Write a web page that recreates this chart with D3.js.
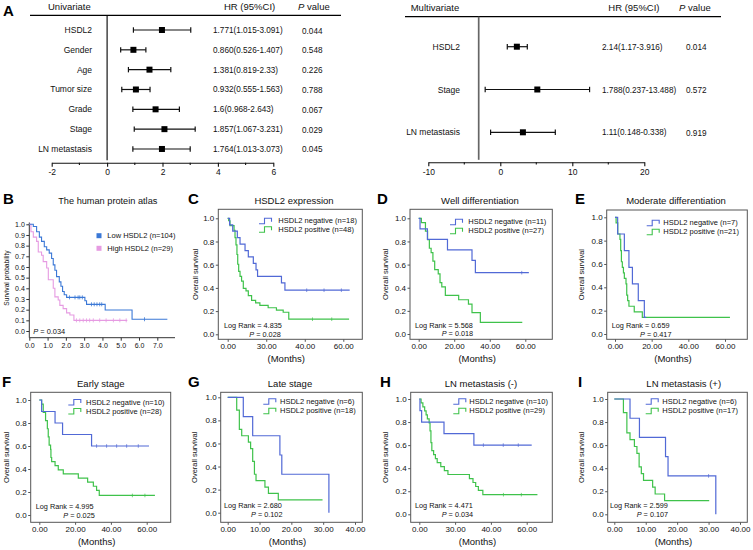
<!DOCTYPE html>
<html><head><meta charset="utf-8">
<script src="https://cdn.jsdelivr.net/npm/d3@7"></script>
<style>
body{margin:0;background:#fff}
svg{display:block}
text{font-family:"Liberation Sans",Arial,Helvetica,sans-serif;fill:#111}
</style>
</head><body>
<svg id="c" width="753" height="550"></svg>
<script>
// ---------------- DATA ----------------
// Panel A – univariate
const uniVars = ["HSDL2","Gender","Age","Tumor size","Grade","Stage","LN metastasis"];
const uniPoint = [1.98,0.95,1.53,1.04,1.75,2.07,1.98];
const uniLo = [0.95,0.49,0.77,0.53,0.93,0.98,0.93];
const uniHi = [3.02,1.40,2.30,1.55,2.61,3.18,3.00];
const uniHRText = ["1.771(1.015-3.091)","0.860(0.526-1.407)","1.381(0.819-2.33)","0.932(0.555-1.563)","1.6(0.968-2.643)","1.857(1.067-3.231)","1.764(1.013-3.073)"];
const uniP = ["0.044","0.548","0.226","0.788","0.067","0.029","0.045"];
const uniTicks = [-2,0,2,4,6];
const uniMinor = [-1,1,3,5];
// Panel A – multivariate
const multiVars = ["HSDL2","Stage","LN metastasis"];
const multiPoint = [2.3,5.14,3.14];
const multiLo = [0.97,-2.1,-1.35];
const multiHi = [3.75,12.4,7.64];
const multiHRText = ["2.14(1.17-3.916)","1.788(0.237-13.488)","1.11(0.148-0.338)"];
const multiP = ["0.014","0.572","0.919"];
const multiTicks = [-10,0,10,20];
const multiMinor = [-5,5,15];

// Panel B – human protein atlas (years, survival)
const bLow = [[0,1],[0.22,0.98],[0.4,0.93],[0.55,0.88],[0.67,0.84],[0.82,0.79],[0.95,0.76],[1.09,0.73],[1.22,0.68],[1.31,0.62],[1.4,0.57],[1.49,0.51],[1.64,0.46],[1.73,0.42],[1.82,0.37],[1.91,0.34],[2.04,0.315],[3.04,0.284],[3.13,0.25],[4.15,0.197],[5.62,0.11],[7.55,0.11]];
const bHigh = [[0,1],[0.09,0.93],[0.22,0.88],[0.4,0.84],[0.49,0.74],[0.67,0.71],[0.76,0.65],[0.95,0.59],[1.04,0.48],[1.31,0.40],[1.4,0.32],[1.58,0.29],[1.67,0.24],[1.85,0.21],[2.04,0.17],[2.22,0.15],[2.44,0.10],[5.36,0.10]];
const bLowCens = [2.2,2.5,2.67,2.76,2.9,3.4,3.55,3.7,3.85,3.96,6.3];
const bHighCens = [2.58,2.76,2.95,3.13,3.3,3.5,3.85,4.2,4.6,4.95,5.3];
const bXTicks = [0,1,2,3,4,5,6,7];
const bYTicks = [0,0.1,0.2,0.3,0.4,0.5,0.6,0.7,0.8,0.9,1.0];
const bLegend = ["Low HSDL2 (n=104)","High HSDL2 (n=29)"];
const bP = "0.034";

// Panels C–I (months, survival)
const cNeg = [[0,1],[1,0.944],[2.6,0.889],[5,0.833],[6.4,0.778],[9,0.722],[10.7,0.667],[13.3,0.611],[14.7,0.556],[15.5,0.5],[27.9,0.444],[29.7,0.38],[63.3,0.38]];
const cPos = [[0,1],[0.5,0.979],[1.2,0.937],[3.3,0.896],[3.8,0.833],[4.3,0.771],[4.8,0.688],[5.2,0.604],[5.7,0.542],[6.4,0.5],[7.2,0.458],[8.1,0.396],[9.5,0.375],[10.7,0.333],[12.4,0.292],[14.5,0.271],[16.7,0.25],[21,0.229],[25.3,0.208],[28.8,0.19],[31.7,0.13],[63,0.13]];
const dNeg = [[0,1],[0.75,0.909],[4.9,0.818],[16.2,0.727],[30,0.636],[31.9,0.53],[62,0.53]];
const dPos = [[0,1],[1.5,0.963],[3.8,0.889],[5,0.815],[6,0.741],[7,0.704],[8,0.63],[9,0.556],[11,0.519],[12,0.444],[13,0.407],[15,0.333],[22.5,0.296],[28,0.259],[30,0.185],[34.7,0.1],[58.3,0.1]];
const eNeg = [[0,1],[1.45,0.857],[5.1,0.714],[7.6,0.571],[9.5,0.429],[12.7,0.286],[16,0.143],[17,0.143]];
const ePos = [[0,1],[0.6,0.952],[1.5,0.857],[2.7,0.81],[3.1,0.714],[3.5,0.619],[4,0.571],[4.6,0.524],[5.1,0.476],[6,0.429],[6.4,0.333],[6.9,0.286],[7.6,0.238],[10.5,0.19],[14.9,0.143],[62.7,0.143]];
const fNeg = [[0,1],[1.3,0.9],[8.8,0.8],[13,0.7],[29.2,0.6],[61.3,0.6]];
const fPos = [[0,1],[1.3,0.964],[2.2,0.893],[3.5,0.821],[4.5,0.75],[5,0.679],[5.5,0.607],[6.3,0.571],[6.5,0.5],[6.9,0.464],[8.8,0.429],[10.6,0.393],[13.4,0.357],[21.8,0.321],[27,0.286],[30.2,0.25],[32,0.214],[33.5,0.17],[64.6,0.17]];
const gNeg = [[0,1],[4.9,0.833],[7.85,0.667],[16.4,0.5],[17,0.333],[31.8,0]];
const gPos = [[0,1],[2.83,0.889],[3.66,0.722],[4.4,0.667],[6.5,0.611],[7.2,0.556],[7.85,0.444],[8.4,0.333],[8.9,0.278],[11.7,0.222],[12.8,0.167],[15.9,0.111],[29.8,0.111]];
const hNeg = [[0,1],[0.37,0.9],[1.3,0.8],[13.8,0.7],[30.5,0.6],[62.8,0.6]];
const hPos = [[0,1],[1,0.966],[2,0.931],[3,0.897],[3.8,0.862],[4.5,0.828],[5.5,0.793],[6,0.724],[6.5,0.621],[7,0.552],[8,0.517],[9,0.483],[10,0.448],[12,0.414],[14,0.379],[16,0.345],[28,0.31],[30,0.276],[31.5,0.241],[33,0.207],[35.5,0.17],[66,0.17]];
const iNeg = [[0,1],[5,0.833],[8,0.667],[16.3,0.5],[17.1,0.333],[32.3,0]];
const iPos = [[0,1],[2.9,0.882],[4,0.706],[5,0.647],[6.4,0.588],[7.2,0.529],[7.9,0.412],[8.6,0.353],[9.3,0.294],[12.2,0.235],[13,0.176],[16,0.118],[30.2,0.118]];

const cNegCens = [41,50,59], cPosCens = [44,54];
const dNegCens = [58], dPosCens = [];
const fNegCens = [32,37.6,43.2,48.8,55.3], fPosCens = [52,59];
const hNegCens = [35.8,46.9,55.3], hPosCens = [47,57];
const iNegCens = [30];

const kmTitles = ["HSDL2 expression","Well differentiation","Moderate differentiation","Early stage","Late stage","LN metastasis (-)","LN metastasis (+)"];
const kmNeg = [18,11,7,10,6,10,6];
const kmPos = [48,27,21,28,18,29,17];
const kmLogRank = ["4.835","5.568","0.659","4.995","2.680","4.471","2.599"];
const kmPval = ["0.028","0.018","0.417","0.025","0.102","0.034","0.107"];
const kmYTicks = [0,0.2,0.4,0.6,0.8,1.0];
const ticks60 = [0,20,40,60], ticks40 = [0,10,20,30,40];
const labelsC = ["0.00","30.00","40.00","60.00"];
const labels60 = ["0.00","20.00","40.00","60.00"];
const labels40 = ["0.00","10.00","20.00","30.00","40.00"];

// ---------------- DRAWING ----------------
const svg = d3.select("#c");
const BLUE = "#5169d6", GREEN = "#3fc24b", FRAME = "#555";

function txt(g, x, y, s, size, anchor, extra) {
  const t = g.append("text").attr("x", x).attr("y", y).attr("font-size", size)
    .attr("text-anchor", anchor || "start").text(s);
  if (extra && extra.weight) t.attr("font-weight", extra.weight);
  return t;
}
function pText(g, x, y, size, rest, anchor) {
  const t = g.append("text").attr("x", x).attr("y", y).attr("font-size", size).attr("text-anchor", anchor || "start");
  t.append("tspan").attr("font-style", "italic").text("P");
  t.append("tspan").text(rest);
  return t;
}

// Panel letters
[["A",3,15.7],["B",3,204],["C",188,204],["D",377,204],["E",575,204],
 ["F",2,387],["G",188,387],["H",380,387],["I",578,387]].forEach(d =>
  txt(svg, d[1], d[2], d[0], 15, "start", {weight: "bold"}).style("fill", "#000"));

// ---------- Forest plots ----------
function forest(o) {
  const g = svg.append("g");
  const x = d3.scaleLinear().domain(o.domain).range(o.range);
  txt(g, o.hdrX, o.hdrY, o.title, 9.5);
  txt(g, o.hrX, o.hdrY, "HR (95%CI)", 9.5);
  pText(g, o.pHdrX, o.hdrY, 9.5, " value");
  g.append("line").attr("x1", o.lineX1).attr("x2", o.lineX2).attr("y1", o.lineY).attr("y2", o.lineY)
    .attr("stroke", "#000").attr("stroke-width", 1.2);
  g.append("line").attr("x1", x(o.refVal)).attr("x2", x(o.refVal)).attr("y1", o.lineY).attr("y2", o.axisY - 2.5)
    .attr("stroke", o.refColor).attr("stroke-width", o.refW);
  o.vars.forEach((v, i) => {
    const yy = o.row0 + i * o.rowStep;
    txt(g, o.labX, yy + 3, v, 8.5, "end");
    g.append("line").attr("x1", x(o.lo[i])).attr("x2", x(o.hi[i])).attr("y1", yy).attr("y2", yy)
      .attr("stroke", "#111").attr("stroke-width", 1.2);
    [o.lo[i], o.hi[i]].forEach(e => g.append("line").attr("x1", x(e)).attr("x2", x(e))
      .attr("y1", yy - 2.7).attr("y2", yy + 2.7).attr("stroke", "#111").attr("stroke-width", 1.2));
    g.append("rect").attr("x", x(o.pt[i]) - 3).attr("y", yy - 3).attr("width", 6).attr("height", 6).attr("fill", "#000");
    txt(g, o.hrTX, yy + 3, o.hrText[i], 8.2);
    txt(g, o.pTX, yy + 3.5, o.p[i], 8.2);
  });
  const ax = d3.axisBottom(x).tickValues(o.ticks).tickSize(4).tickSizeOuter(0).tickPadding(2.5).tickFormat(d => String(d));
  const ag = g.append("g").attr("transform", `translate(0,${o.axisY})`).call(ax);
  ag.selectAll("text").attr("font-size", 8.5).style("font-family", '"Liberation Sans",Arial,sans-serif').attr("fill", "#111");
  ag.selectAll("path,line").attr("stroke", "#111").attr("stroke-width", 1.1);
  o.minor.forEach(m => g.append("line").attr("x1", x(m)).attr("x2", x(m)).attr("y1", o.axisY).attr("y2", o.axisY + 2.2)
    .attr("stroke", "#111").attr("stroke-width", 1.1));
}
forest({title:"Univariate", hdrX:48, hdrY:10, hrX:224, pHdrX:298, lineX1:30, lineX2:341, lineY:15.3,
  domain:[-2,6], range:[51.7,273.3], refVal:0, refColor:"#000", refW:1.1, axisY:162.7,
  vars:uniVars, pt:uniPoint, lo:uniLo, hi:uniHi, hrText:uniHRText, p:uniP, ticks:uniTicks, minor:uniMinor,
  row0:30, rowStep:19.83, labX:92, hrTX:213, pTX:302});
forest({title:"Multivariate", hdrX:410.7, hdrY:11, hrX:608.3, pHdrX:679, lineX1:405, lineX2:721, lineY:16.7,
  domain:[-10,20], range:[428.3,644.3], refVal:-3, refColor:"#666", refW:1.7, axisY:162.3,
  vars:multiVars, pt:multiPoint, lo:multiLo, hi:multiHi, hrText:multiHRText, p:multiP, ticks:multiTicks, minor:multiMinor,
  row0:46.7, rowStep:42.8, labX:460, hrTX:602, pTX:686});

// ---------- helpers for KM ----------
function survAt(curve, t) {
  let s = curve[0][1];
  for (const d of curve) { if (d[0] <= t) s = d[1]; }
  return s;
}
const stepLine = (x, y) => d3.line().x(d => x(d[0])).y(d => y(d[1])).curve(d3.curveStepAfter);

// ---------- Panel B ----------
(function () {
  const g = svg.append("g");
  const x = d3.scaleLinear().domain([0, 7]).range([29.3, 157.3]);
  const y = d3.scaleLinear().domain([0, 1]).range([331, 224.3]);
  txt(g, 107.8, 204, "The human protein atlas", 9.2, "middle");
  const ya = d3.axisLeft(y).tickValues(bYTicks).tickSize(3).tickSizeOuter(0).tickPadding(1.5).tickFormat(d3.format(".1f"));
  const yg = g.append("g").attr("transform", "translate(29.3,0)").call(ya);
  yg.select(".domain").remove();
  g.append("line").attr("x1", 29.3).attr("x2", 29.3).attr("y1", 222.5).attr("y2", 337.7).attr("stroke", "#333");
  const xa = d3.axisBottom(x).tickValues(bXTicks).tickSize(3).tickSizeOuter(0).tickPadding(2);
  const xg = g.append("g").attr("transform", "translate(0,337.7)").call(xa);
  xg.select(".domain").remove();
  g.append("line").attr("x1", 29.3).attr("x2", 175).attr("y1", 337.7).attr("y2", 337.7).attr("stroke", "#333");
  [yg, xg].forEach(a => { a.selectAll("text").attr("font-size", 7).attr("fill", "#111").style("font-family", '"Liberation Sans",Arial,sans-serif'); a.selectAll("line").attr("stroke", "#333"); });
  g.append("text").attr("transform", "translate(8.5,278) rotate(-90)").attr("text-anchor", "middle").attr("font-size", 6.6).text("Survival probability");
  const line = stepLine(x, y);
  [[bHigh, "#e69be2", bHighCens], [bLow, "#3b78d6", bLowCens]].forEach(([c, col, cens]) => {
    g.append("path").attr("d", line(c)).attr("fill", "none").attr("stroke", col).attr("stroke-width", 1.1);
    cens.forEach(t => { const yy = y(survAt(c, t)); g.append("line").attr("x1", x(t)).attr("x2", x(t)).attr("y1", yy - 2).attr("y2", yy + 2).attr("stroke", col).attr("stroke-width", 0.8); });
  });
  [["#3b78d6", bLegend[0], 235.7], ["#e69be2", bLegend[1], 248.3]].forEach(([col, s, yy]) => {
    g.append("rect").attr("x", 96.5).attr("y", yy - 2.5).attr("width", 5).attr("height", 5).attr("fill", col);
    txt(g, 107.3, yy + 2.7, s, 7.5);
  });
  pText(g, 33.3, 333.6, 7.4, " = " + bP);
})();

// ---------- Panels C–I ----------
const kmLayout = [
 {fl:218.3,fr:362.3,ft:209.3,fb:339.3,x0:227.7,x1:343.3,y1:218.3,y0:334.3,xMax:60,ticks:ticks60,labels:labelsC,titleX:294,titleY:204,legIconX:259,legTextX:278.3,leg1Y:220.7,leg2Y:229.3,lrX:224,lrY:325.7,pX:249.3,pY:334.3,ylX:195,neg:cNeg,pos:cPos,negC:cNegCens,posC:cPosCens},
 {fl:410,fr:552.3,ft:209.3,fb:339.3,x0:418.7,x1:525.3,y1:218.3,y0:334,xMax:60,ticks:ticks60,labels:labels60,titleX:480,titleY:204,legIconX:450,legTextX:468.3,leg1Y:221.7,leg2Y:230.7,lrX:415,lrY:325,pX:441.7,pY:333.7,ylX:385,neg:dNeg,pos:dPos,negC:dNegCens,posC:dPosCens},
 {fl:606.7,fr:747.3,ft:210,fb:339.3,x0:615,x1:725,y1:217.3,y0:334,xMax:60,ticks:ticks60,labels:labels60,titleX:676,titleY:204,legIconX:646.7,legTextX:663.3,leg1Y:222.7,leg2Y:231.7,lrX:611.7,lrY:325.7,pX:640,pY:334.3,ylX:581.7,neg:eNeg,pos:ePos,negC:[],posC:[]},
 {fl:30.7,fr:170.7,ft:392.3,fb:522.3,x0:39.3,x1:146.7,y1:400,y0:515,xMax:60,ticks:ticks60,labels:labels60,titleX:100.8,titleY:386.6,legIconX:68.3,legTextX:86,leg1Y:402,leg2Y:411,lrX:35.7,lrY:506,pX:63.3,pY:515,ylX:6,neg:fNeg,pos:fPos,negC:fNegCens,posC:fPosCens},
 {fl:220.7,fr:362.3,ft:392.3,fb:522.3,x0:227.7,x1:355,y1:397.3,y0:512.7,xMax:40,ticks:ticks40,labels:labels40,titleX:290,titleY:386.6,legIconX:263.3,legTextX:280,leg1Y:401.3,leg2Y:410.7,lrX:224,lrY:505.8,pX:251,pY:514.6,ylX:194.3,neg:gNeg,pos:gPos,negC:[],posC:[]},
 {fl:410.7,fr:552.3,ft:392.3,fb:522.3,x0:419.3,x1:526.7,y1:399,y0:514.3,xMax:60,ticks:ticks60,labels:labelsC,titleX:481,titleY:386.6,legIconX:453.3,legTextX:469.3,leg1Y:401.3,leg2Y:410.7,lrX:415,lrY:505.8,pX:441.7,pY:514.6,ylX:385,neg:hNeg,pos:hPos,negC:hNegCens,posC:hPosCens},
 {fl:607.7,fr:747.3,ft:392.3,fb:522.3,x0:614.3,x1:740,y1:399,y0:514.3,xMax:40,ticks:ticks40,labels:labels40,titleX:683.7,titleY:386.6,legIconX:645.7,legTextX:662.3,leg1Y:401.3,leg2Y:410.7,lrX:610,lrY:505.8,pX:636.7,pY:514.6,ylX:581.7,neg:iNeg,pos:iPos,negC:iNegCens,posC:[]}
];

kmLayout.forEach((p, k) => {
  const g = svg.append("g");
  const x = d3.scaleLinear().domain([0, p.xMax]).range([p.x0, p.x1]);
  const y = d3.scaleLinear().domain([0, 1]).range([p.y0, p.y1]);
  txt(g, p.titleX, p.titleY, kmTitles[k], 9.5, "middle");
  const ya = d3.axisLeft(y).tickValues(kmYTicks).tickSize(2.5).tickSizeOuter(0).tickPadding(1.5).tickFormat(d3.format(".1f"));
  const yg = g.append("g").attr("transform", `translate(${p.fl},0)`).call(ya);
  const xa = d3.axisBottom(x).tickValues(p.ticks).tickSize(2.5).tickSizeOuter(0).tickPadding(1.8).tickFormat((d, i) => p.labels[i]);
  const xg = g.append("g").attr("transform", `translate(0,${p.fb})`).call(xa);
  [yg, xg].forEach(a => { a.select(".domain").remove(); a.selectAll("text").attr("font-size", 8).attr("fill", "#111").style("font-family", '"Liberation Sans",Arial,sans-serif'); a.selectAll("line").attr("stroke", FRAME); });
  g.append("rect").attr("x", p.fl).attr("y", p.ft).attr("width", p.fr - p.fl).attr("height", p.fb - p.ft)
    .attr("fill", "none").attr("stroke", FRAME).attr("stroke-width", 1);
  g.append("text").attr("transform", `translate(${p.ylX + 2.7},${(p.ft + p.fb) / 2}) rotate(-90)`).attr("text-anchor", "middle").attr("font-size", 7.5).text("Overall survival");
  txt(g, (p.fl + p.fr) / 2 - 4, p.fb + 22.7, "(Months)", 9.5, "middle");
  const line = stepLine(x, y);
  [[p.pos, GREEN, p.posC], [p.neg, BLUE, p.negC]].forEach(([c, col, cens]) => {
    g.append("path").attr("d", line(c)).attr("fill", "none").attr("stroke", col).attr("stroke-width", 1.2);
    cens.forEach(t => { const yy = y(survAt(c, t)); g.append("line").attr("x1", x(t)).attr("x2", x(t)).attr("y1", yy - 1.8).attr("y2", yy + 1.8).attr("stroke", col).attr("stroke-width", 0.7); });
  });
  [[BLUE, `HSDL2 negative (n=${kmNeg[k]})`, p.leg1Y], [GREEN, `HSDL2 positive (n=${kmPos[k]})`, p.leg2Y]].forEach(([col, s, yy]) => {
    const x0 = p.legIconX;
    g.append("path").attr("d", `M${x0},${yy + 3}H${x0 + 5.5}V${yy - 2.5}H${x0 + 12.5}V${yy + 1}`)
      .attr("fill", "none").attr("stroke", col).attr("stroke-width", 1.1);
    txt(g, p.legTextX, yy + 2.7, s, 7.5);
  });
  txt(g, p.lrX, p.lrY + 2.6, "Log Rank = " + kmLogRank[k], 7.3);
  pText(g, p.pX, p.pY + 2.6, 7.3, " = " + kmPval[k]);
});
</script>
</body></html>
